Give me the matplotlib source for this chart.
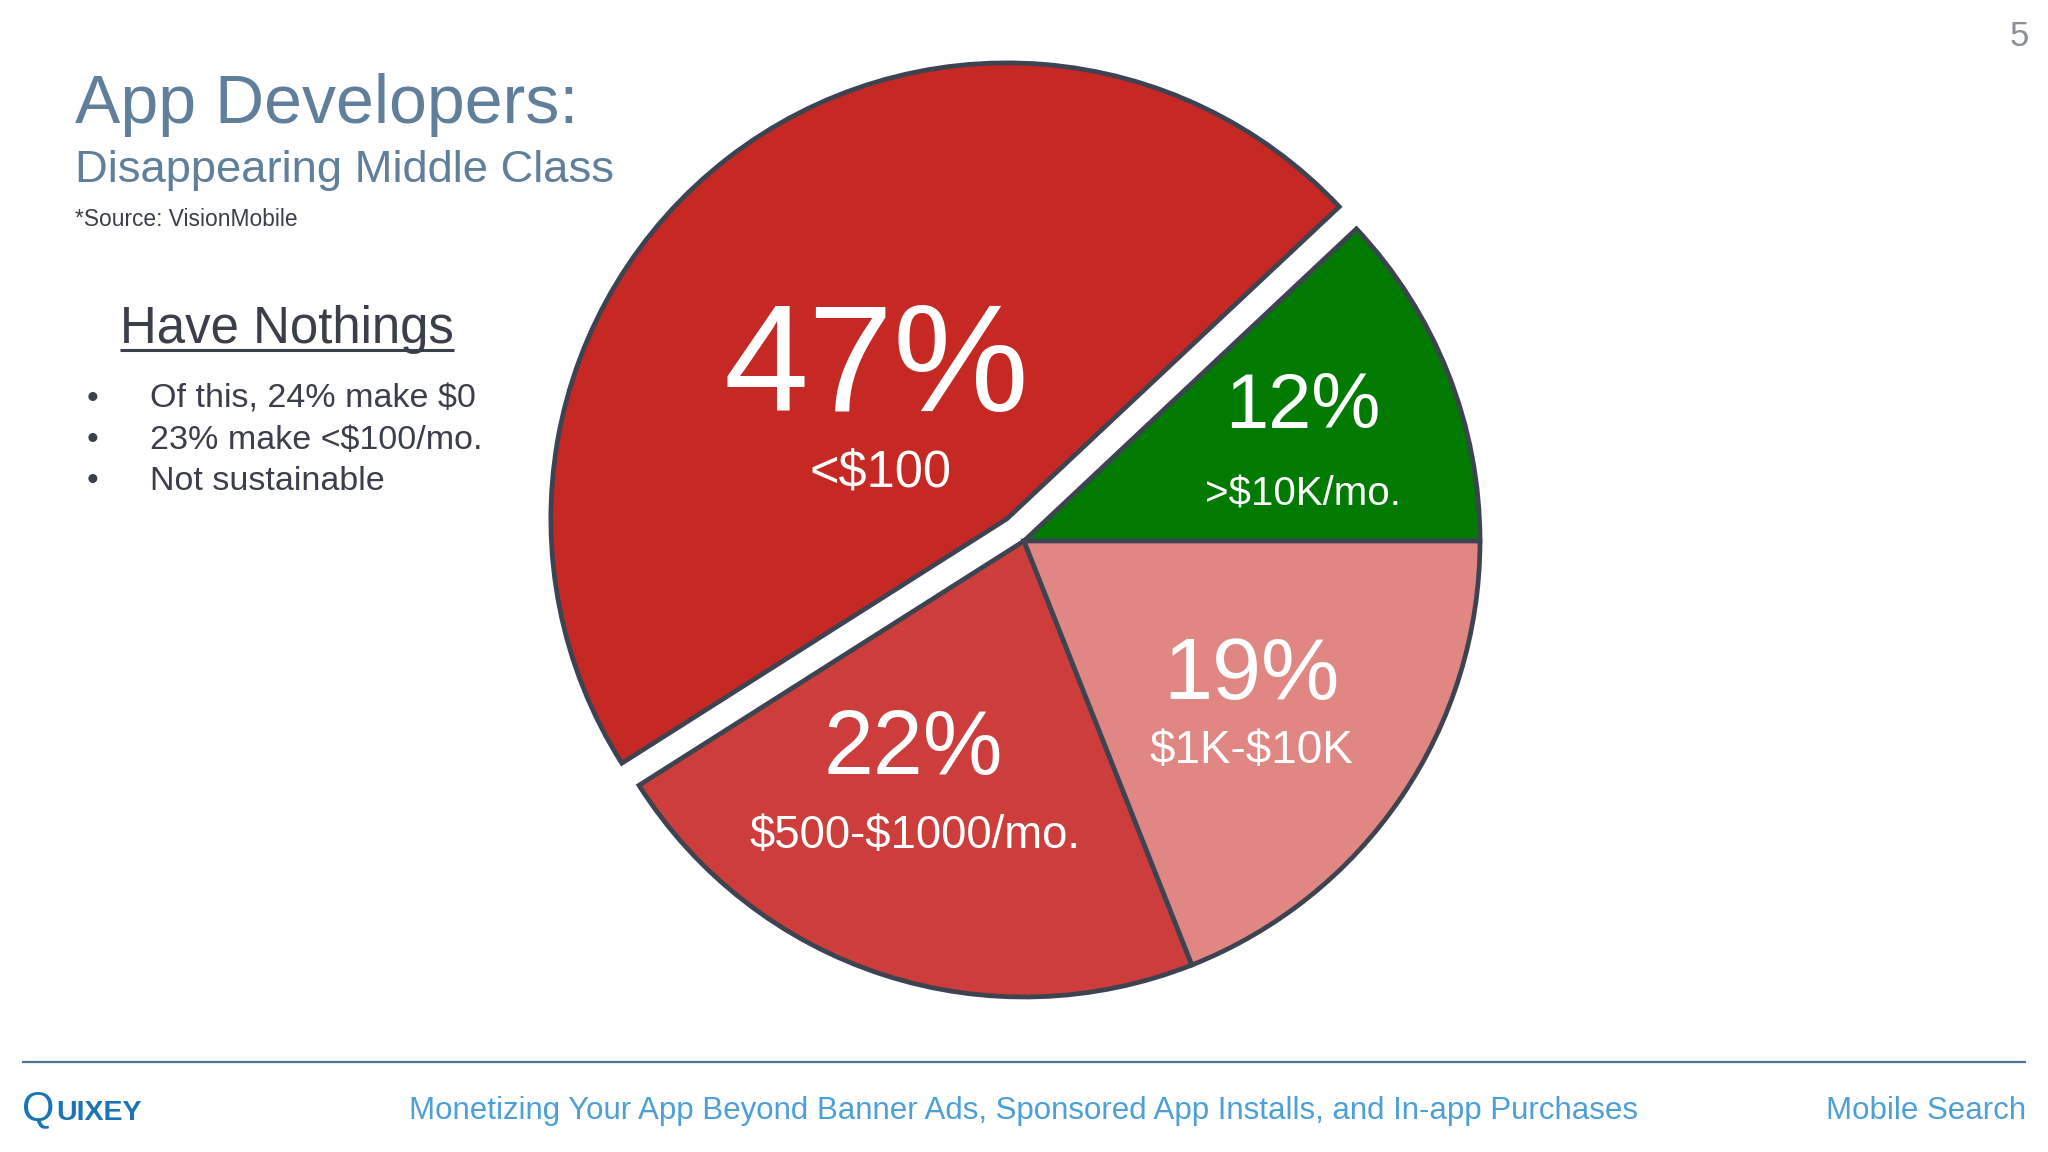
# App Developers: Disappearing Middle Class - slide with pie chart

import matplotlib
matplotlib.use("Agg")
import matplotlib.pyplot as plt

plt.rcParams["font.family"] = ["Liberation Sans", "DejaVu Sans"]

# -- Data --
shares = [12, 47, 22, 19]
share_labels = ["12%", "47%", "22%", "19%"]
income_labels = [">\\$10K/mo.", "<\\$100", "\\$500-\\$1000/mo.", "\\$1K-\\$10K"]
wedge_colors = ["#007A00", "#C62824", "#CC3D3B", "#E08683"]
explode = [0, 28, 0, 0]

bullets = ["Of this, 24% make \\$0", "23% make <\\$100/mo.", "Not sustainable"]
footer = "Monetizing Your App Beyond Banner Ads, Sponsored App Installs, and In-app Purchases"

W, H = 2048, 1152
TITLE = "#5F7F9B"
DARK = "#3A3F4A"
EDGE = "#3D4350"
BLUE = "#4D9FD8"


def Y(y):
    # pixel row from the top -> data y
    return H - y


# -- Plot --
fig = plt.figure(figsize=(W / 100, H / 100), dpi=100, facecolor="white")
ax = fig.add_axes([0, 0, 1, 1])

ax.pie(shares, explode=explode, colors=wedge_colors, startangle=0, counterclock=True,
       center=(1024, Y(541)), radius=456,
       wedgeprops={"edgecolor": EDGE, "linewidth": 3.4})

ax.set_xlim(0, W)
ax.set_ylim(0, H)
ax.set_aspect("equal")
ax.axis("off")

# -- Pie labels --
share_pos = [(1303, 428, 56), (876, 411, 110), (913, 774, 64.5), (1251, 699, 63.5)]
income_pos = [(1303, 506, 29), (880, 487, 36.4), (915, 848, 32.8), (1251, 763, 33)]
for lab, (x, y, fs) in zip(share_labels, share_pos):
    ax.text(x, Y(y), lab, color="white", fontsize=fs, ha="center", va="baseline")
for lab, (x, y, fs) in zip(income_labels, income_pos):
    ax.text(x, Y(y), lab, color="white", fontsize=fs, ha="center", va="baseline")

# -- Title block --
ax.text(75, Y(123), "App Developers:", color=TITLE, fontsize=49, va="baseline")
ax.text(75, Y(182), "Disappearing Middle Class", color=TITLE, fontsize=32.7, va="baseline")
ax.text(75, Y(226), "*Source: VisionMobile", color=DARK, fontsize=16.4, va="baseline")

ax.text(120, Y(343), "Have Nothings", color=DARK, fontsize=36.7, va="baseline")
ax.plot([120, 454], [Y(350), Y(350)], color=DARK, linewidth=2.2, solid_capstyle="butt")

for y, line in zip([408, 449, 490], bullets):
    ax.text(92, Y(y), "\u2022", color=DARK, fontsize=24, ha="center", va="baseline")
    ax.text(150, Y(y), line, color=DARK, fontsize=24.5, va="baseline")

ax.text(2029, Y(46), "5", color="#8A9096", fontsize=25, ha="right", va="baseline")

# -- Footer --
ax.plot([22, 2026], [Y(1062), Y(1062)], color="#4F7299", linewidth=1.6, solid_capstyle="butt")
ax.text(22, Y(1120), "Q", color="#1B75B5", fontsize=30, va="baseline")
ax.text(56, Y(1120), "UIXEY", color="#1B75B5", fontsize=20.5, fontweight="bold", va="baseline")
ax.text(409, Y(1119), footer, color=BLUE, fontsize=22.5, va="baseline")
ax.text(2026, Y(1119), "Mobile Search", color=BLUE, fontsize=22.5, ha="right", va="baseline")

fig.savefig("out.png", dpi=100)
